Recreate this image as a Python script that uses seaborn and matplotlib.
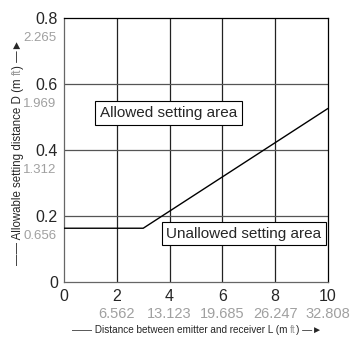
import matplotlib
matplotlib.use("Agg")
import matplotlib.pyplot as plt
import seaborn as sns
import pandas as pd

sns.set_style("white")
plt.rcParams['font.family'] = ['Liberation Sans', 'DejaVu Sans']

# boundary of the allowed setting area
dist_L = [0, 3, 10]
dist_D = [0.162, 0.162, 0.525]

x_ticks = [0, 2, 4, 6, 8, 10]
y_ticks = [0, 0.2, 0.4, 0.6, 0.8]
x_ft = ["6.562", "13.123", "19.685", "26.247", "32.808"]   # under 2..10
y_ft = ["0.656", "1.312", "1.969", "2.265"]                # under 0.2..0.8

df = pd.DataFrame({"L": dist_L, "D": dist_D})

fig = plt.figure(figsize=(3.5, 3.38), dpi=100)
ax = fig.add_axes([0.183, 0.1666, 0.754, 0.781])

for x in x_ticks[1:-1]:
    ax.axvline(x, color="#222222", lw=0.9, zorder=1)
for y in y_ticks[1:-1]:
    ax.axhline(y, color="#555555", lw=0.9, zorder=1)

sns.lineplot(data=df, x="L", y="D", color="black", lw=1.0, ax=ax, zorder=3)

ax.set_xlim(0, 10)
ax.set_ylim(0, 0.8)
ax.set_xticks(x_ticks)
ax.set_xticklabels([str(v) for v in x_ticks])
ax.set_yticks(y_ticks)
ax.set_yticklabels(["0", "0.2", "0.4", "0.6", "0.8"])
ax.tick_params(direction="inout", length=5, width=0.8, labelsize=11.5,
               pad=2, color="#555555")
ax.tick_params(axis="x", pad=3)
ax.set_xlabel("")
ax.set_ylabel("")
for side in ["top", "right"]:
    ax.spines[side].set_color("black")
for side in ["left", "bottom"]:
    ax.spines[side].set_color("#666666")
for s in ax.spines.values():
    s.set_linewidth(0.9)

# secondary (feet) labels in gray
for x, t in zip(x_ticks[1:], x_ft):
    ax.annotate(t, xy=(x, 0), xycoords=("data", "axes fraction"),
                xytext=(0, -18.5), textcoords="offset points",
                ha="center", va="top", fontsize=10.5, color="#a0a0a0")
for y, t in zip(y_ticks[1:], y_ft):
    ax.annotate(t, xy=(0, y), xycoords=("axes fraction", "data"),
                xytext=(-5.5, -14.5), textcoords="offset points",
                ha="right", va="center", fontsize=9.5, color="#a0a0a0")

box = dict(boxstyle="square,pad=0.3", fc="white", ec="black", lw=0.8)
ax.text(3.96, 0.511, "Allowed setting area", ha="center", va="center",
        fontsize=11, bbox=box, zorder=4)
ax.text(6.81, 0.145, "Unallowed setting area", ha="center", va="center",
        fontsize=11, bbox=box, zorder=4)

# axis labels, "ft" in gray
fs = 7.2
t1 = fig.text(0.206, 0.01, "—— Distance between emitter and receiver L (m ",
              fontsize=fs, va="bottom", ha="left")
t2 = ax.annotate("ft", xy=(1, 0), xycoords=t1, va="bottom", ha="left",
                 fontsize=fs, color="#999999")
ax.annotate(") —►", xy=(1, 0), xycoords=t2, va="bottom", ha="left",
            fontsize=fs)

fsy = 8.3
r1 = fig.text(0.052, 0.216, "—— Allowable setting distance D (m ", rotation=90,
              fontsize=fsy, va="bottom", ha="center")
r2 = ax.annotate("ft", xy=(0.5, 1), xycoords=r1, va="bottom", ha="center",
                 rotation=90, fontsize=fsy, color="#999999")
ax.annotate(") —►", xy=(0.5, 1), xycoords=r2, va="bottom", ha="center",
            rotation=90, fontsize=fsy)

fig.savefig("out.png", dpi=100)
